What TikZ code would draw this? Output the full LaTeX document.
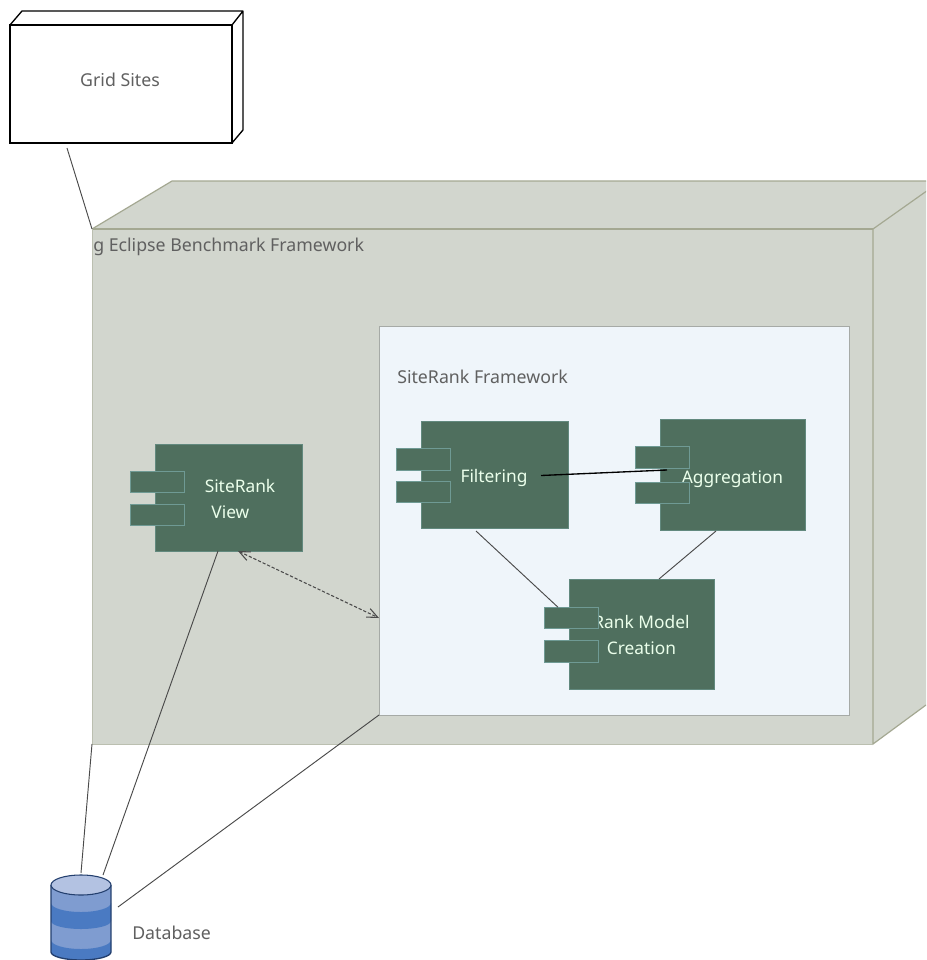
\documentclass[tikz,border=0pt]{standalone}
\usepackage{fontspec}
\setmainfont{Noto Sans}
\usetikzlibrary{arrows.meta}
\def\u{0.75pt}
\definecolor{compfill}{HTML}{4F6F5E}
\definecolor{portedge}{HTML}{6F9A94}
\definecolor{outerfill}{HTML}{D2D6CE}
\definecolor{outeredge}{HTML}{A4A892}
\definecolor{innerfill}{HTML}{EFF5FA}
\definecolor{inneredge}{HTML}{A6AAA6}
\definecolor{dbtop}{HTML}{B3C2E2}
\definecolor{dblight}{HTML}{7F9CD0}
\definecolor{dbdark}{HTML}{4A7AC2}
\definecolor{dbedge}{HTML}{233F6E}
\definecolor{lbl}{HTML}{606060}
\definecolor{conn}{HTML}{4A4A4A}
\tikzset{
  x=\u, y=-\u,
  box/.style={rectangle, inner sep=0pt, outer sep=0pt},
  gridbox/.style={box, draw=black, line width=1pt, fill=white},
  outerbox/.style={box, fill=outerfill},
  innerbox/.style={box, fill=innerfill, draw=inneredge, line width=0.6pt},
  compbox/.style={box, fill=compfill, draw=portedge!60!compfill, line width=0.5pt},
  complabel/.style={text=white!92!green, font=\fontsize{13}{19.2}\selectfont, inner sep=0pt},
  port/.style={box, fill=compfill, draw=portedge, line width=0.7pt, minimum width=54*\u, minimum height=21.5*\u},
  lab/.style={text=lbl, font=\fontsize{13.3}{16}\selectfont, inner sep=0pt},
  link/.style={draw=conn, line width=0.7pt},
}
\begin{document}
\begin{tikzpicture}
\clip (0,0) rectangle (926,960);
\fill[white] (0,0) rectangle (926,960);

% Grid Sites
\node[gridbox, minimum width=222*\u, minimum height=118*\u] (grid) at (121,84) {};
\draw[black, line width=1pt, line join=round] (grid.north west) -- (22,11) -- (243,11) -- (243,130) -- (grid.south east)
      (grid.north east) -- (243,11);
\node[lab] (gridlabel) at (120,80) {Grid Sites};

% Outer framework
\fill[outerfill] (92,229) -- (172,181) -- (940,181) -- (926,192) -- (926,705) -- (873,744) -- (92,744) -- cycle;
\node[outerbox, minimum width=781*\u, minimum height=515*\u] (outer) at (482.5,486.5) {};
\draw[outeredge, line width=0.9pt] (outer.north west) -- (172,181) -- (926,181);
\draw[outeredge, line width=0.9pt] (outer.north east) -- (938,183);
\draw[outeredge, line width=2pt] (outer.north west) -- (outer.north east);
\draw[outeredge, line width=0.9pt] (outer.north east) -- (outer.south east) -- (926,705);
\draw[outeredge!50!outerfill, line width=0.6pt] (outer.south west) -- (outer.north west);
\draw[outeredge!50!outerfill, line width=0.6pt] (outer.south west) -- (outer.south east);
\node[lab, anchor=west] (outerlabel) at (93,247) {g Eclipse Benchmark Framework};

% Inner framework
\node[innerbox, minimum width=470*\u, minimum height=389*\u] (inner) at (614,520.5) {};
\node[lab, anchor=west] (innerlabel) at (397,377) {SiteRank Framework};

% Components
\node[compbox, minimum width=147*\u, minimum height=107*\u] (view) at (228.5,497.5) {};
\node[complabel, align=left] (viewlabel) at (240,499) {SiteRank\\\hspace{5pt}View};
\node[port] (viewp1) at (157,482) {};
\node[port] (viewp2) at (157,515) {};

\node[compbox, minimum width=147*\u, minimum height=107*\u] (filter) at (494.5,474.5) {};
\node[complabel] (filterlabel) at (494,478) {Filtering};
\node[port] (filterp1) at (423,459.5) {};
\node[port] (filterp2) at (423,492) {};

\node[compbox, minimum width=145*\u, minimum height=111*\u] (aggr) at (732.5,474.5) {};
\node[complabel] (aggrlabel) at (732.5,479) {Aggregation};
\node[port] (aggrp1) at (662.5,457.5) {};
\node[port] (aggrp2) at (662.5,493) {};

\node[compbox, minimum width=145*\u, minimum height=110*\u] (rank) at (641.5,634) {};
\node[complabel, align=center] (ranklabel) at (641.5,635) {Rank Model\\Creation};
\node[port] (rankp1) at (571,618) {};
\node[port] (rankp2) at (571,651.5) {};

% Database
\node[box, minimum width=60*\u, minimum height=85*\u] (db) at (81,917.5) {};
\begin{scope}
  \clip (51,885) -- (51,952) arc[start angle=180, end angle=0, x radius=30, y radius=8] -- (111,885) -- cycle;
  \fill[dblight] (51,875) rectangle (111,960);
  \fill[dbdark] (51,903) arc[start angle=180, end angle=0, x radius=30, y radius=9] -- (111,921) arc[start angle=0, end angle=180, x radius=30, y radius=8] -- cycle;
  \fill[dbdark] (51,940) arc[start angle=180, end angle=0, x radius=30, y radius=9] -- (111,965) -- (51,965) -- cycle;
\end{scope}
\draw[dbedge, line width=1pt] (51,885) -- (51,952) arc[start angle=180, end angle=0, x radius=30, y radius=8] -- (111,885);
\draw[dbedge, line width=0.8pt, fill=dbtop] (81,885) ellipse[x radius=30, y radius=10];
\node[lab, anchor=west] (dblabel) at (132,933) {Database};

% Connectors
\draw[link] ([shift={(57,5)}]grid.south west) -- (outer.north west);
\draw[link] (outer.south west) -- ([shift={(30,-2)}]db.north west);
\draw[link] ([shift={(63,0)}]view.south west) -- ([shift={(52,0)}]db.north west);
\draw[link] (inner.south west) -- ([shift={(67,32)}]db.north west);
\draw[link] ([shift={(55,3)}]filter.south west) -- ([shift={(14,0)}]rankp1.north west);
\draw[link] ([shift={(56,1)}]aggr.south west) -- ([shift={(90,0)}]rank.north west);
\draw[draw=black, line width=1pt] ([shift={(-27,1)}]filter.east) -- ([shift={(7,51)}]aggr.north west);
\draw[conn, line width=0.8pt, dash pattern=on 2.4pt off 1.4pt, {Straight Barb[length=8pt,width=7pt]}-{Straight Barb[length=8pt,width=7pt]}]
  ([shift={(83,0)}]view.south west) -- ([shift={(0,97.5)}]inner.west);
\end{tikzpicture}
\end{document}
